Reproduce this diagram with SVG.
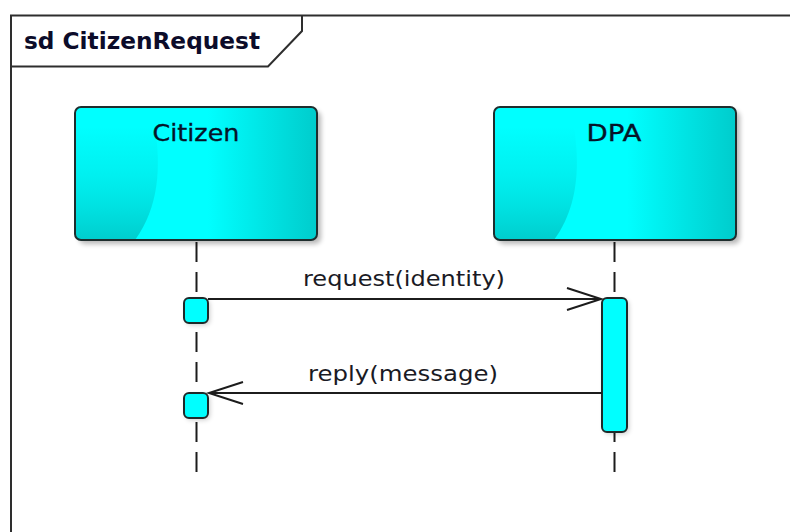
<svg xmlns="http://www.w3.org/2000/svg" width="790" height="532" viewBox="0 0 790 532">
  <defs>
    <style>
      .frame { fill: none; stroke: #2e2e2e; stroke-width: 2; }
      .title { font-family: "DejaVu Sans", Verdana, sans-serif; font-weight: bold; font-size: 23px; fill: #0c0c2a; }
      .name { font-family: "DejaVu Sans", Verdana, sans-serif; font-size: 23px; fill: #061428; text-anchor: middle; stroke: #061428; stroke-width: 0.3; }
      .msg { font-family: "DejaVu Sans", Verdana, sans-serif; font-size: 22px; fill: #1a1a24; text-anchor: middle; }
      .border { fill: none; stroke: #1e2e2e; stroke-width: 2; }
      .life { stroke: #1c1c1c; stroke-width: 2; stroke-dasharray: 20 10; }
      .act { fill: #00ffff; stroke: #1e2a2a; stroke-width: 2; }
      .wire { stroke: #1c1c1c; stroke-width: 2; fill: none; }
    </style>
    <linearGradient id="bodyFill" x1="0" y1="0" x2="1" y2="0">
      <stop offset="0" stop-color="#00ffff"/>
      <stop offset="0.55" stop-color="#00ffff"/>
      <stop offset="1" stop-color="#00cccc"/>
    </linearGradient>
    <linearGradient id="sideFill" x1="0" y1="0" x2="0" y2="1">
      <stop offset="0" stop-color="#00e8e8" stop-opacity="0"/>
      <stop offset="0.35" stop-color="#00ebeb" stop-opacity="0.6"/>
      <stop offset="1" stop-color="#00cdcd"/>
    </linearGradient>
    <filter id="soft" x="-20%" y="-20%" width="140%" height="140%">
      <feGaussianBlur stdDeviation="2.5"/>
    </filter>
    <clipPath id="boxClip">
      <rect x="0" y="0" width="242" height="133" rx="6"/>
    </clipPath>
    <marker id="open" markerUnits="userSpaceOnUse" markerWidth="40" markerHeight="28" viewBox="0 0 40 28" refX="35" refY="12" orient="auto">
      <path d="M1,1 L35,12 L1,23" fill="none" stroke="#1c1c1c" stroke-width="2"/>
    </marker>
  </defs>

  <!-- interaction frame -->
  <g id="frame">
    <rect class="frame" x="11" y="15.5" width="800" height="560"/>
    <path class="frame" d="M11,66.5 H268 L302,31 V15.5"/>
    <text class="title" x="24" y="49" textLength="236" lengthAdjust="spacingAndGlyphs">sd CitizenRequest</text>
  </g>

  <!-- lifeline: Citizen -->
  <g id="citizen">
    <line class="life" x1="196.5" y1="242" x2="196.5" y2="472"/>
    <g transform="translate(75,107)">
      <rect x="4" y="4" width="242" height="133" rx="6" fill="#000" opacity="0.28" filter="url(#soft)"/>
      <rect x="0" y="0" width="242" height="133" rx="6" fill="url(#bodyFill)"/>
      <path d="M0,20 H80 C86,60 84,100 60,133 H0 Z" fill="url(#sideFill)" clip-path="url(#boxClip)"/>
      <rect class="border" x="0" y="0" width="242" height="133" rx="6"/>
    </g>
    <text class="name" x="196" y="141" textLength="87" lengthAdjust="spacingAndGlyphs">Citizen</text>
    <rect x="186" y="300" width="24" height="25" rx="5" fill="#000" opacity="0.2" filter="url(#soft)"/>
    <rect class="act" x="184" y="298" width="24" height="25" rx="5"/>
    <rect x="186" y="395" width="24" height="25" rx="5" fill="#000" opacity="0.2" filter="url(#soft)"/>
    <rect class="act" x="184" y="393" width="24" height="25" rx="5"/>
  </g>

  <!-- lifeline: DPA -->
  <g id="dpa">
    <line class="life" x1="614.5" y1="242" x2="614.5" y2="472"/>
    <g transform="translate(494,107)">
      <rect x="4" y="4" width="242" height="133" rx="6" fill="#000" opacity="0.28" filter="url(#soft)"/>
      <rect x="0" y="0" width="242" height="133" rx="6" fill="url(#bodyFill)"/>
      <path d="M0,20 H80 C86,60 84,100 60,133 H0 Z" fill="url(#sideFill)" clip-path="url(#boxClip)"/>
      <rect class="border" x="0" y="0" width="242" height="133" rx="6"/>
    </g>
    <text class="name" x="614" y="141" textLength="55" lengthAdjust="spacingAndGlyphs">DPA</text>
    <rect x="604" y="300" width="25" height="134" rx="5" fill="#000" opacity="0.2" filter="url(#soft)"/>
    <rect class="act" x="602" y="298" width="25" height="134" rx="5"/>
  </g>

  <!-- messages -->
  <g id="connectors">
    <line class="wire" x1="208" y1="299" x2="601" y2="299" marker-end="url(#open)"/>
    <text class="msg" x="404" y="286" textLength="202" lengthAdjust="spacingAndGlyphs">request(identity)</text>
    <line class="wire" x1="602" y1="393" x2="209" y2="393" marker-end="url(#open)"/>
    <text class="msg" x="403" y="381" textLength="190" lengthAdjust="spacingAndGlyphs">reply(message)</text>
  </g>
</svg>
